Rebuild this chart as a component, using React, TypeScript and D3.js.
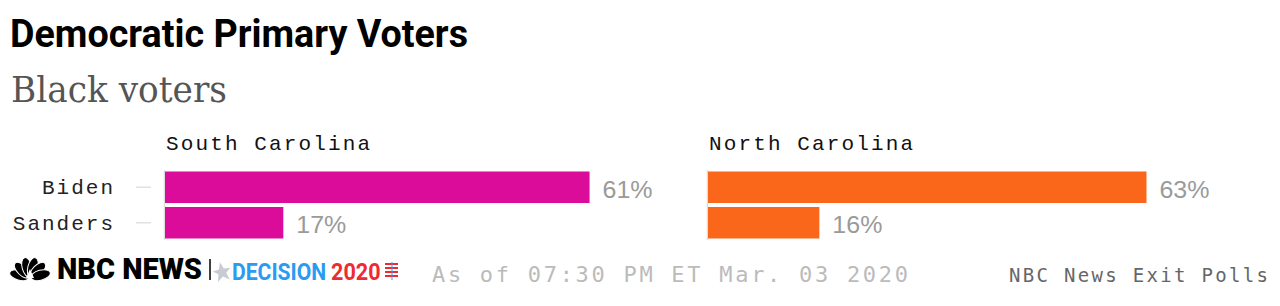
import React from "react";
import * as d3 from "d3";

const title = "Democratic Primary Voters";
const subtitle = "Black voters";
const states = ["South Carolina", "North Carolina"];
const candidates = ["Biden", "Sanders"];
const southCarolina = [61, 17];
const northCarolina = [63, 16];
const stateColors = ["#DC0C9B", "#FA661A"];
const asOf = "As of 07:30 PM ET Mar. 03 2020";
const source = "NBC News Exit Polls";

const W = 1280;
const H = 306;

export default function App() {
  const x = d3.scaleLinear().domain([0, 100]).range([0, 696]);
  const y = d3
    .scaleBand<string>()
    .domain(candidates)
    .range([171.5, 238.5])
    .paddingInner(0.113);
  const panelX = [165, 708];
  const series = [southCarolina, northCarolina];
  const mono = "'Liberation Mono', 'DejaVu Sans Mono', monospace";
  const mono2 = "'DejaVu Sans Mono', monospace";

  const feathers = [-75, -45, -15, 15, 45, 75];

  return (
    <svg
      width={W}
      height={H}
      style={{ position: "absolute", left: 0, top: 0, background: "#fff" }}
    >
      <text
        x={10}
        y={47}
        fontFamily="Roboto, sans-serif"
        fontWeight={700}
        fontSize={38}
        fill="#000"
        textLength={458}
        lengthAdjust="spacingAndGlyphs"
      >
        {title}
      </text>
      <text
        x={11}
        y={102}
        fontFamily="'DejaVu Serif', serif"
        fontSize={35}
        fill="#555"
        textLength={216}
        lengthAdjust="spacingAndGlyphs"
      >
        {subtitle}
      </text>

      {/* row labels and ticks */}
      {candidates.map((c) => {
        const cy = (y(c) as number) + y.bandwidth() / 2;
        return (
          <g key={c}>
            <text
              x={115}
              y={cy + 7}
              textAnchor="end"
              fontFamily={mono}
              fontSize={21}
              letterSpacing={2}
              fill="#222"
            >
              {c}
            </text>
            <line x1={136} x2={151} y1={cy} y2={cy} stroke="#e2e2e2" strokeWidth={1.5} />
          </g>
        );
      })}

      {states.map((s, i) => (
        <g key={s} transform={`translate(${panelX[i]},0)`}>
          <text
            x={1}
            y={150}
            fontFamily={mono}
            fontSize={21}
            fill="#111"
            textLength={204}
            lengthAdjust="spacing"
          >
            {s}
          </text>
          <line x1={-0.5} x2={-0.5} y1={170} y2={240} stroke="#dddddd" strokeWidth={1.5} />
          {candidates.map((c, j) => {
            const v = series[i][j];
            const by = y(c) as number;
            return (
              <g key={c}>
                <rect
                  x={0}
                  y={by}
                  width={x(v)}
                  height={y.bandwidth()}
                  fill={stateColors[i]}
                />
                <text
                  x={x(v) + 13}
                  y={by + y.bandwidth() / 2 + 10.5}
                  fontFamily="'Liberation Sans', Arial, sans-serif"
                  fontSize={24}
                  fill="#9a9a9a"
                  textLength={50}
                  lengthAdjust="spacingAndGlyphs"
                >
                  {v}%
                </text>
              </g>
            );
          })}
        </g>
      ))}

      {/* NBC News logo */}
      <g transform="translate(30,278)">
        {feathers.map((a) => (
          <ellipse
            key={a}
            cx={0}
            cy={-11}
            rx={5}
            ry={10}
            fill="#000"
            stroke="#fff"
            strokeWidth={1}
            transform={`rotate(${a})`}
          />
        ))}
        <path d="M-4,0 L0,-9 L4,0 Z" fill="#fff" />
      </g>
      <text
        x={57}
        y={279}
        fontFamily="Roboto, sans-serif"
        fontWeight={900}
        fontSize={29}
        fill="#000"
        textLength={145}
        lengthAdjust="spacingAndGlyphs"
      >
        NBC NEWS
      </text>
      <line x1={210} x2={210} y1={259} y2={280} stroke="#000" strokeWidth={1.5} />
      <path
        d="M222,262 L224.5,269 L231,269.5 L226,273.5 L228,281 L222,276.5 L216,281 L218,273.5 L213,269.5 L219.5,269 Z"
        fill="#c8ccd2"
        transform="rotate(-12,222,272)"
      />
      <g transform="translate(232,280) scale(0.88,1)">
        <text
          x={0}
          y={0}
          fontFamily="Roboto, sans-serif"
          fontWeight={700}
          fontSize={24}
          fill="#2A9BF0"
        >
          DECISION
        </text>
      </g>
      <g transform="translate(331,280) scale(0.9,1)">
        <text
          x={0}
          y={0}
          fontFamily="Roboto, sans-serif"
          fontWeight={700}
          fontSize={24}
          fill="#EE2B30"
        >
          2020
        </text>
      </g>
      {[264, 268, 272, 276].map((sy) => (
        <line key={sy} x1={385} x2={398} y1={sy} y2={sy} stroke="#EE2B30" strokeWidth={2} />
      ))}
      <line x1={392} x2={392} y1={262} y2={280} stroke="#2A9BF0" strokeWidth={1} />

      <text
        x={432}
        y={282}
        fontFamily={mono2}
        fontSize={22}
        fill="#bbbbbb"
        textLength={476}
        lengthAdjust="spacing"
      >
        {asOf}
      </text>
      <text
        x={1009}
        y={282}
        fontFamily={mono2}
        fontSize={19}
        fill="#666"
        textLength={259}
        lengthAdjust="spacing"
      >
        {source}
      </text>
    </svg>
  );
}
